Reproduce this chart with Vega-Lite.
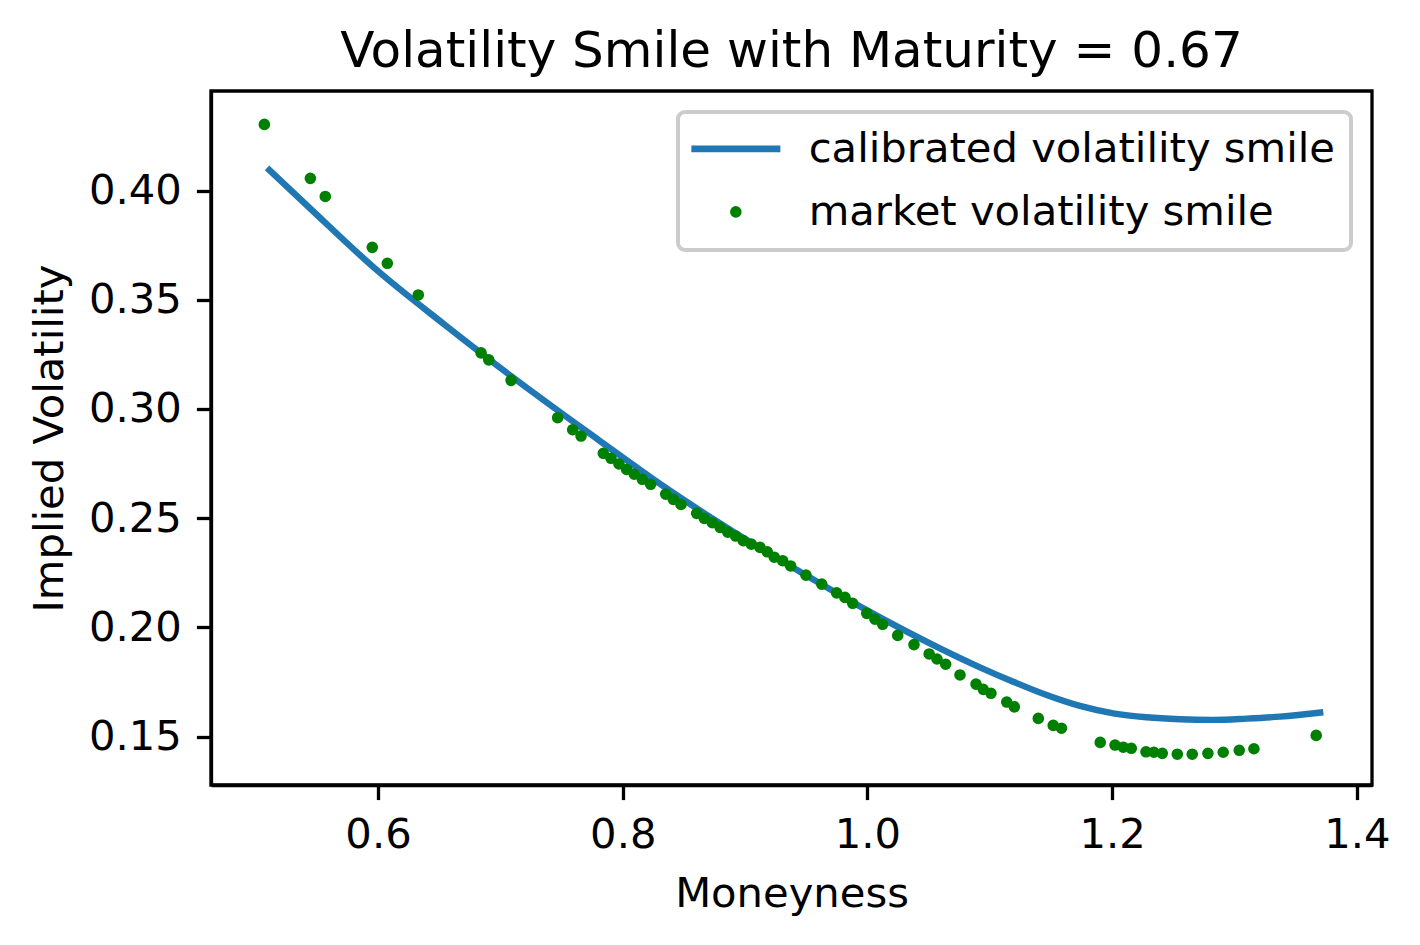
{
  "$schema": "https://vega.github.io/schema/vega-lite/v6.json",
  "width": 1161,
  "height": 694,
  "autosize": {"type": "none"},
  "padding": {"left": 211, "top": 91, "right": 48, "bottom": 160},
  "background": "white",
  "title": {
    "text": "Volatility Smile with Maturity = 0.67",
    "font": "DejaVu Sans",
    "fontSize": 50,
    "fontWeight": "normal",
    "color": "black",
    "baseline": "alphabetic",
    "offset": -26
  },
  "datasets": {
    "calibrated": [
      {"moneyness": 0.5093, "iv": 0.4104},
      {"moneyness": 0.5453, "iv": 0.3914},
      {"moneyness": 0.5998, "iv": 0.3632},
      {"moneyness": 0.6542, "iv": 0.3387},
      {"moneyness": 0.7087, "iv": 0.3151},
      {"moneyness": 0.7795, "iv": 0.2861},
      {"moneyness": 0.8359, "iv": 0.2636},
      {"moneyness": 0.8903, "iv": 0.2438},
      {"moneyness": 0.9448, "iv": 0.2255},
      {"moneyness": 0.9993, "iv": 0.2079},
      {"moneyness": 1.0592, "iv": 0.1904},
      {"moneyness": 1.0919, "iv": 0.1817},
      {"moneyness": 1.1191, "iv": 0.1751},
      {"moneyness": 1.1464, "iv": 0.1690},
      {"moneyness": 1.1736, "iv": 0.1640},
      {"moneyness": 1.2009, "iv": 0.1606},
      {"moneyness": 1.2281, "iv": 0.1588},
      {"moneyness": 1.2554, "iv": 0.1579},
      {"moneyness": 1.2826, "iv": 0.1576},
      {"moneyness": 1.3099, "iv": 0.1582},
      {"moneyness": 1.3371, "iv": 0.1591},
      {"moneyness": 1.3725, "iv": 0.1611}
    ],
    "market": [
      {"moneyness": 0.5071, "iv": 0.4303},
      {"moneyness": 0.5447, "iv": 0.4056},
      {"moneyness": 0.5569, "iv": 0.3973},
      {"moneyness": 0.5953, "iv": 0.3740},
      {"moneyness": 0.6076, "iv": 0.3667},
      {"moneyness": 0.6329, "iv": 0.3522},
      {"moneyness": 0.6842, "iv": 0.3257},
      {"moneyness": 0.6905, "iv": 0.3225},
      {"moneyness": 0.7087, "iv": 0.3131},
      {"moneyness": 0.7468, "iv": 0.2960},
      {"moneyness": 0.7591, "iv": 0.2905},
      {"moneyness": 0.7659, "iv": 0.2876},
      {"moneyness": 0.7841, "iv": 0.2797},
      {"moneyness": 0.7904, "iv": 0.2774},
      {"moneyness": 0.7969, "iv": 0.2748},
      {"moneyness": 0.8032, "iv": 0.2723},
      {"moneyness": 0.8094, "iv": 0.2701},
      {"moneyness": 0.8160, "iv": 0.2678},
      {"moneyness": 0.8228, "iv": 0.2655},
      {"moneyness": 0.8351, "iv": 0.2610},
      {"moneyness": 0.8413, "iv": 0.2586},
      {"moneyness": 0.8476, "iv": 0.2563},
      {"moneyness": 0.8604, "iv": 0.2522},
      {"moneyness": 0.8666, "iv": 0.2499},
      {"moneyness": 0.8732, "iv": 0.2479},
      {"moneyness": 0.8795, "iv": 0.2458},
      {"moneyness": 0.8858, "iv": 0.2436},
      {"moneyness": 0.8923, "iv": 0.2418},
      {"moneyness": 0.8985, "iv": 0.2397},
      {"moneyness": 0.9050, "iv": 0.2381},
      {"moneyness": 0.9122, "iv": 0.2366},
      {"moneyness": 0.9181, "iv": 0.2346},
      {"moneyness": 0.9238, "iv": 0.2321},
      {"moneyness": 0.9307, "iv": 0.2305},
      {"moneyness": 0.9372, "iv": 0.2281},
      {"moneyness": 0.9497, "iv": 0.2239},
      {"moneyness": 0.9626, "iv": 0.2198},
      {"moneyness": 0.9748, "iv": 0.2158},
      {"moneyness": 0.9816, "iv": 0.2137},
      {"moneyness": 0.9879, "iv": 0.2110},
      {"moneyness": 0.9994, "iv": 0.2064},
      {"moneyness": 1.0061, "iv": 0.2037},
      {"moneyness": 1.0124, "iv": 0.2014},
      {"moneyness": 1.0247, "iv": 0.1963},
      {"moneyness": 1.0380, "iv": 0.1921},
      {"moneyness": 1.0504, "iv": 0.1878},
      {"moneyness": 1.0568, "iv": 0.1855},
      {"moneyness": 1.0639, "iv": 0.1831},
      {"moneyness": 1.0756, "iv": 0.1782},
      {"moneyness": 1.0887, "iv": 0.1740},
      {"moneyness": 1.0946, "iv": 0.1716},
      {"moneyness": 1.1009, "iv": 0.1698},
      {"moneyness": 1.1138, "iv": 0.1658},
      {"moneyness": 1.1200, "iv": 0.1636},
      {"moneyness": 1.1396, "iv": 0.1583},
      {"moneyness": 1.1518, "iv": 0.1551},
      {"moneyness": 1.1585, "iv": 0.1538},
      {"moneyness": 1.1902, "iv": 0.1473},
      {"moneyness": 1.2023, "iv": 0.1461},
      {"moneyness": 1.2090, "iv": 0.1451},
      {"moneyness": 1.2156, "iv": 0.1446},
      {"moneyness": 1.2276, "iv": 0.1430},
      {"moneyness": 1.2341, "iv": 0.1428},
      {"moneyness": 1.2409, "iv": 0.1423},
      {"moneyness": 1.2532, "iv": 0.1419},
      {"moneyness": 1.2654, "iv": 0.1419},
      {"moneyness": 1.2782, "iv": 0.1423},
      {"moneyness": 1.2907, "iv": 0.1428},
      {"moneyness": 1.3038, "iv": 0.1437},
      {"moneyness": 1.3158, "iv": 0.1444},
      {"moneyness": 1.3667, "iv": 0.1505}
    ]
  },
  "encoding": {
    "x": {
      "field": "moneyness",
      "type": "quantitative",
      "title": "Moneyness",
      "scale": {"domain": [0.4635, 1.4123], "nice": false, "zero": false},
      "axis": {"values": [0.6, 0.8, 1.0, 1.2, 1.4], "format": ".1f", "labelPadding": 15, "titlePadding": 17}
    },
    "y": {
      "field": "iv",
      "type": "quantitative",
      "title": "Implied Volatility",
      "scale": {"domain": [0.1278, 0.4456], "nice": false, "zero": false},
      "axis": {"values": [0.15, 0.2, 0.25, 0.3, 0.35, 0.4], "format": ".2f", "labelPadding": 15, "titlePadding": 17}
    }
  },
  "layer": [
    {
      "data": {"name": "calibrated"},
      "mark": {"type": "line", "strokeWidth": 6.4, "interpolate": "monotone"},
      "encoding": {
        "color": {
          "datum": "calibrated volatility smile",
          "type": "nominal",
          "scale": {
            "domain": ["calibrated volatility smile", "market volatility smile"],
            "range": ["#1f77b4", "green"]
          },
          "legend": {
            "title": null,
            "orient": "top-right",
            "offset": 21,
            "padding": 16,
            "rowPadding": 20,
            "symbolSize": 100,
            "labelOffset": 52,
            "symbolOffset": 21,
            "labelFont": "DejaVu Sans",
            "labelFontSize": 41.7,
            "labelColor": "black",
            "labelLimit": 0,
            "strokeColor": "#cccccc",
            "fillColor": "rgba(255,255,255,0.8)",
            "cornerRadius": 7,
            "encode": {
              "legend": {"update": {"strokeWidth": {"value": 4}}},
              "symbols": {
                "update": {
                  "shape": {"signal": "datum.value === 'calibrated volatility smile' ? 'stroke' : 'circle'"},
                  "size": {"signal": "datum.value === 'calibrated volatility smile' ? 7921 : 135"},
                  "stroke": {"signal": "datum.value === 'calibrated volatility smile' ? '#1f77b4' : 'transparent'"},
                  "strokeWidth": {"signal": "datum.value === 'calibrated volatility smile' ? 6.7 : 0"},
                  "fill": {"signal": "datum.value === 'calibrated volatility smile' ? 'transparent' : 'green'"},
                  "opacity": {"value": 1}
                }
              }
            }
          }
        }
      }
    },
    {
      "data": {"name": "market"},
      "mark": {"type": "point", "filled": true, "size": 135, "opacity": 1},
      "encoding": {
        "color": {"datum": "market volatility smile", "type": "nominal"}
      }
    }
  ],
  "config": {
    "view": {"stroke": "black", "strokeWidth": 3.3},
    "axis": {
      "grid": false,
      "domainColor": "black",
      "domainWidth": 3.3,
      "tickColor": "black",
      "tickWidth": 3.3,
      "tickSize": 14.6,
      "labelFont": "DejaVu Sans",
      "labelFontSize": 41.7,
      "labelColor": "black",
      "titleFont": "DejaVu Sans",
      "titleFontSize": 41.7,
      "titleFontWeight": "normal",
      "titleColor": "black"
    }
  }
}
